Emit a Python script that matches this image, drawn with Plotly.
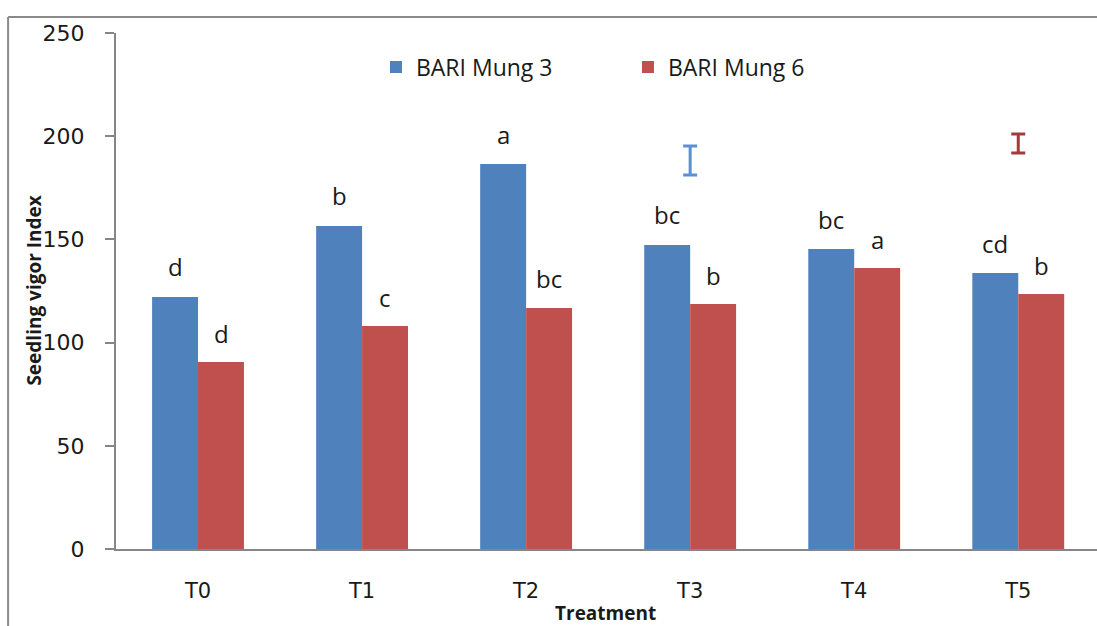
import plotly.graph_objects as go

treatments = ["T0", "T1", "T2", "T3", "T4", "T5"]
mung3 = [122.1, 156.5, 186.5, 147.3, 145.3, 133.7]
mung6 = [90.6, 108.0, 116.8, 118.7, 136.1, 123.5]
letters3 = ["d", "b", "a", "bc", "bc", "cd"]
letters6 = ["d", "c", "bc", "b", "a", "b"]
# LSD bars (standalone error bars)
lsd3_x, lsd3_y, lsd3_err = ["T3"], [188.2], [7.0]
lsd6_x, lsd6_y, lsd6_err = ["T5"], [196.5], [4.6]

BLUE = "#4F81BD"
RED = "#C0504D"
AXIS = "#868686"
TXT = "#1a1a1a"

fig = go.Figure()
fig.add_trace(go.Bar(x=treatments, y=mung3, name="BARI Mung 3", marker_color=BLUE, marker_line_width=0))
fig.add_trace(go.Bar(x=treatments, y=mung6, name="BARI Mung 6", marker_color=RED, marker_line_width=0))

fig.add_trace(go.Scatter(x=lsd3_x, y=lsd3_y, mode="markers", marker=dict(size=1, opacity=0),
                         showlegend=False, hoverinfo="skip",
                         error_y=dict(type="data", array=lsd3_err, color="#5B8FD6", thickness=3, width=7)))
fig.add_trace(go.Scatter(x=lsd6_x, y=lsd6_y, mode="markers", marker=dict(size=1, opacity=0),
                         showlegend=False, hoverinfo="skip",
                         error_y=dict(type="data", array=lsd6_err, color="#A33B3D", thickness=3, width=7)))

annotations = []
for t, v, l in zip(treatments, mung3, letters3):
    annotations.append(dict(x=t, y=v, text=l, showarrow=False, xshift=-23, yshift=30,
                            yanchor="middle", font=dict(size=24, color=TXT, family="Open Sans")))
for t, v, l in zip(treatments, mung6, letters6):
    annotations.append(dict(x=t, y=v, text=l, showarrow=False, xshift=23, yshift=29,
                            yanchor="middle", font=dict(size=24, color=TXT, family="Open Sans")))

annotations.append(dict(text="<b>Seedling vigor Index</b>", xref="paper", yref="paper",
                        x=-0.084, y=0.5, textangle=-90, showarrow=False,
                        xanchor="center", yanchor="middle",
                        font=dict(size=19, color=TXT, family="Open Sans")))
annotations.append(dict(text="<b>Treatment</b>", xref="paper", yref="paper",
                        x=0.499, y=-0.124, showarrow=False,
                        xanchor="center", yanchor="middle",
                        font=dict(size=19, color=TXT, family="Open Sans")))

shapes = [
    dict(type="line", xref="paper", yref="paper", x0=-0.110, x1=1.0, y0=1.031, y1=1.031,
         line=dict(color="#8a8a8a", width=2)),
    dict(type="line", xref="paper", yref="paper", x0=-0.110, x1=-0.110, y0=1.031, y1=-0.16,
         line=dict(color="#8a8a8a", width=2)),
]

fig.update_layout(
    width=1097, height=626,
    margin=dict(l=116, r=0, t=33, b=77),
    paper_bgcolor="white", plot_bgcolor="white",
    barmode="group", bargap=0.44, bargroupgap=0,
    showlegend=True,
    legend=dict(orientation="h", x=0.265, y=0.934, xanchor="left", yanchor="middle",
                font=dict(size=23, color=TXT, family="Open Sans"),
                entrywidth=207, entrywidthmode="pixels", bgcolor="rgba(0,0,0,0)"),
    xaxis=dict(range=[-0.5, 5.48], showline=True, linecolor=AXIS, linewidth=2,
               ticks="", showgrid=False, tickfont=dict(size=21, color=TXT, family="DejaVu Sans"),
               ticklabelstandoff=22),
    yaxis=dict(range=[0, 250], dtick=50, showline=True, linecolor=AXIS, linewidth=2,
               ticks="outside", ticklen=9, tickcolor=AXIS, tickwidth=2, showgrid=False,
               zeroline=False, tickfont=dict(size=22, color=TXT, family="DejaVu Sans"),
               ticklabelstandoff=16),
    annotations=annotations,
    shapes=shapes,
)

fig.write_html("out.html")
